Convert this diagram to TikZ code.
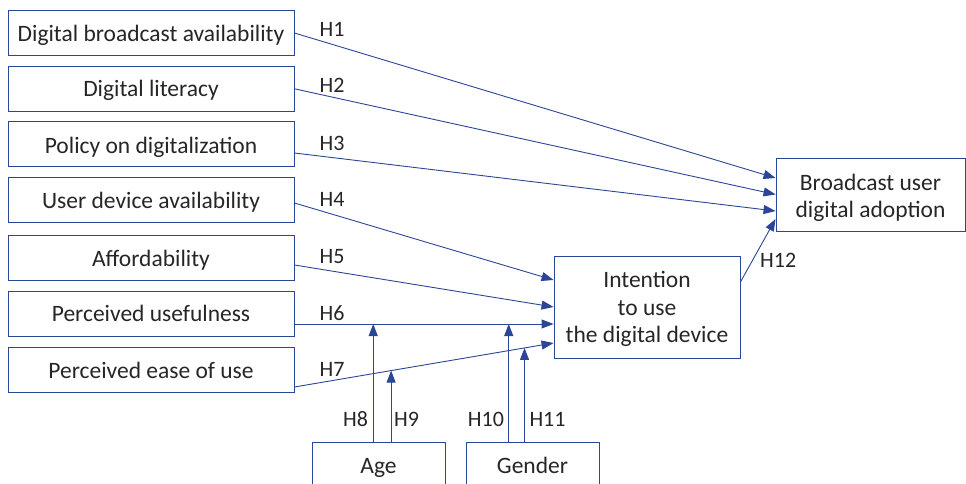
\documentclass[tikz,border=0pt]{standalone}
\usepackage{fontspec}
\setmainfont{Carlito}
\usetikzlibrary{arrows.meta,calc}
\definecolor{lnblue}{HTML}{2B4597}
\definecolor{txt}{HTML}{262626}
\newcommand\bltext[2]{\raisebox{#1}[0pt][0pt]{#2}}
\begin{document}
\begin{tikzpicture}[x=1pt,y=-1pt,
  box/.style={draw=lnblue, line width=0.9pt, text=txt, font=\fontsize{23.5}{27.5}\selectfont, inner sep=0pt},
  lbox/.style={box, minimum width=286pt, minimum height=45pt},
  lbl/.style={text=txt, font=\fontsize{22}{26}\selectfont, inner sep=0pt, anchor=base west},
  arr/.style={draw=lnblue, line width=0.9pt, -{Triangle[length=12pt,width=9pt]}}]
\clip (0,0) rectangle (966,484);
% left boxes
\node[lbox] (b1) at (151,32.5) {\bltext{-8.8pt}{Digital broadcast availability}};
\node[lbox] (b2) at (151,89.3) {\bltext{-7.6pt}{Digital literacy}};
\node[lbox] (b3) at (151,143.5) {\bltext{-9.6pt}{Policy on digitalization}};
\node[lbox] (b4) at (151,199.5) {\bltext{-9.3pt}{User device availability}};
\node[lbox] (b5) at (151,257.5) {\bltext{-8.5pt}{Affordability}};
\node[lbox] (b6) at (151,313.5) {\bltext{-8.3pt}{Perceived usefulness}};
\node[lbox] (b7) at (151,369.5) {\bltext{-8.8pt}{Perceived ease of use}};
% right boxes
\node[box, minimum width=189pt, minimum height=73pt] (bu) at (870.5,194.5)
  {\bltext{4.5pt}{\begin{tabular}[t]{@{}c@{}}Broadcast user\\digital adoption\end{tabular}}};
\node[box, minimum width=186pt, minimum height=102pt] (in) at (647,307)
  {\bltext{19.3pt}{\begin{tabular}[t]{@{}c@{}}Intention\\to use\\the digital device\end{tabular}}};
% bottom boxes
\node[box, minimum width=133pt, minimum height=50pt] (age) at (378.5,467) {\bltext{-6.3pt}{Age}};
\node[box, minimum width=133pt, minimum height=50pt] (gen) at (532.5,467) {\bltext{-6.3pt}{Gender}};
% coordinates
\coordinate (s6) at ([yshift=-10.5pt]b6.east);
\coordinate (e6) at ([yshift=-17pt]in.west);
\coordinate (s7) at ([yshift=-17.5pt]b7.east);
\coordinate (e7) at ([yshift=-36pt]in.west);
\coordinate (m8) at ($(s6)!0.304!(e6)$);
\coordinate (m10) at ($(s6)!0.827!(e6)$);
\coordinate (m9) at ($(s7)!0.373!(e7)$);
\coordinate (m11) at ($(s7)!0.888!(e7)$);
% arrows to broadcast
\draw[arr] ([yshift=-0.5pt]b1.east) -- ([yshift=16.5pt]bu.west);
\draw[arr] ([yshift=0.5pt]b2.east) -- (bu.west);
\draw[arr] ([yshift=-9.5pt]b3.east) -- ([yshift=-16.5pt]bu.west);
% arrows to intention
\draw[arr] ([yshift=-3.5pt]b4.east) -- ([yshift=27pt]in.west);
\draw[arr] ([yshift=-7.5pt]b5.east) -- (in.west);
\draw[arr] (s6) -- (e6);
\draw[arr] (s7) -- (e7);
\draw[arr] ([yshift=25pt]in.east) -- ([yshift=-24.5pt]bu.west);
% moderators
\draw[arr] (m8 |- age.north) -- (m8);
\draw[arr] (m9 |- age.north) -- (m9);
\draw[arr] (m10 |- gen.north) -- (m10);
\draw[arr] (m11 |- gen.north) -- (m11);
% labels
\node[lbl] (h1) at (319.5,36.7) {H1};
\node[lbl] (h2) at (319.5,93) {H2};
\node[lbl] (h3) at (319.5,150) {H3};
\node[lbl] (h4) at (319.5,206.7) {H4};
\node[lbl] (h5) at (319.5,263.3) {H5};
\node[lbl] (h6) at (319.5,320) {H6};
\node[lbl] (h7) at (319.5,376.7) {H7};
\node[lbl] (h8) at (343,426.7) {H8};
\node[lbl] (h9) at (394,426.7) {H9};
\node[lbl] (h10) at (467.7,426.7) {H10};
\node[lbl] (h11) at (529.3,426.7) {H11};
\node[lbl] (h12) at (760,267.7) {H12};
\end{tikzpicture}
\end{document}
